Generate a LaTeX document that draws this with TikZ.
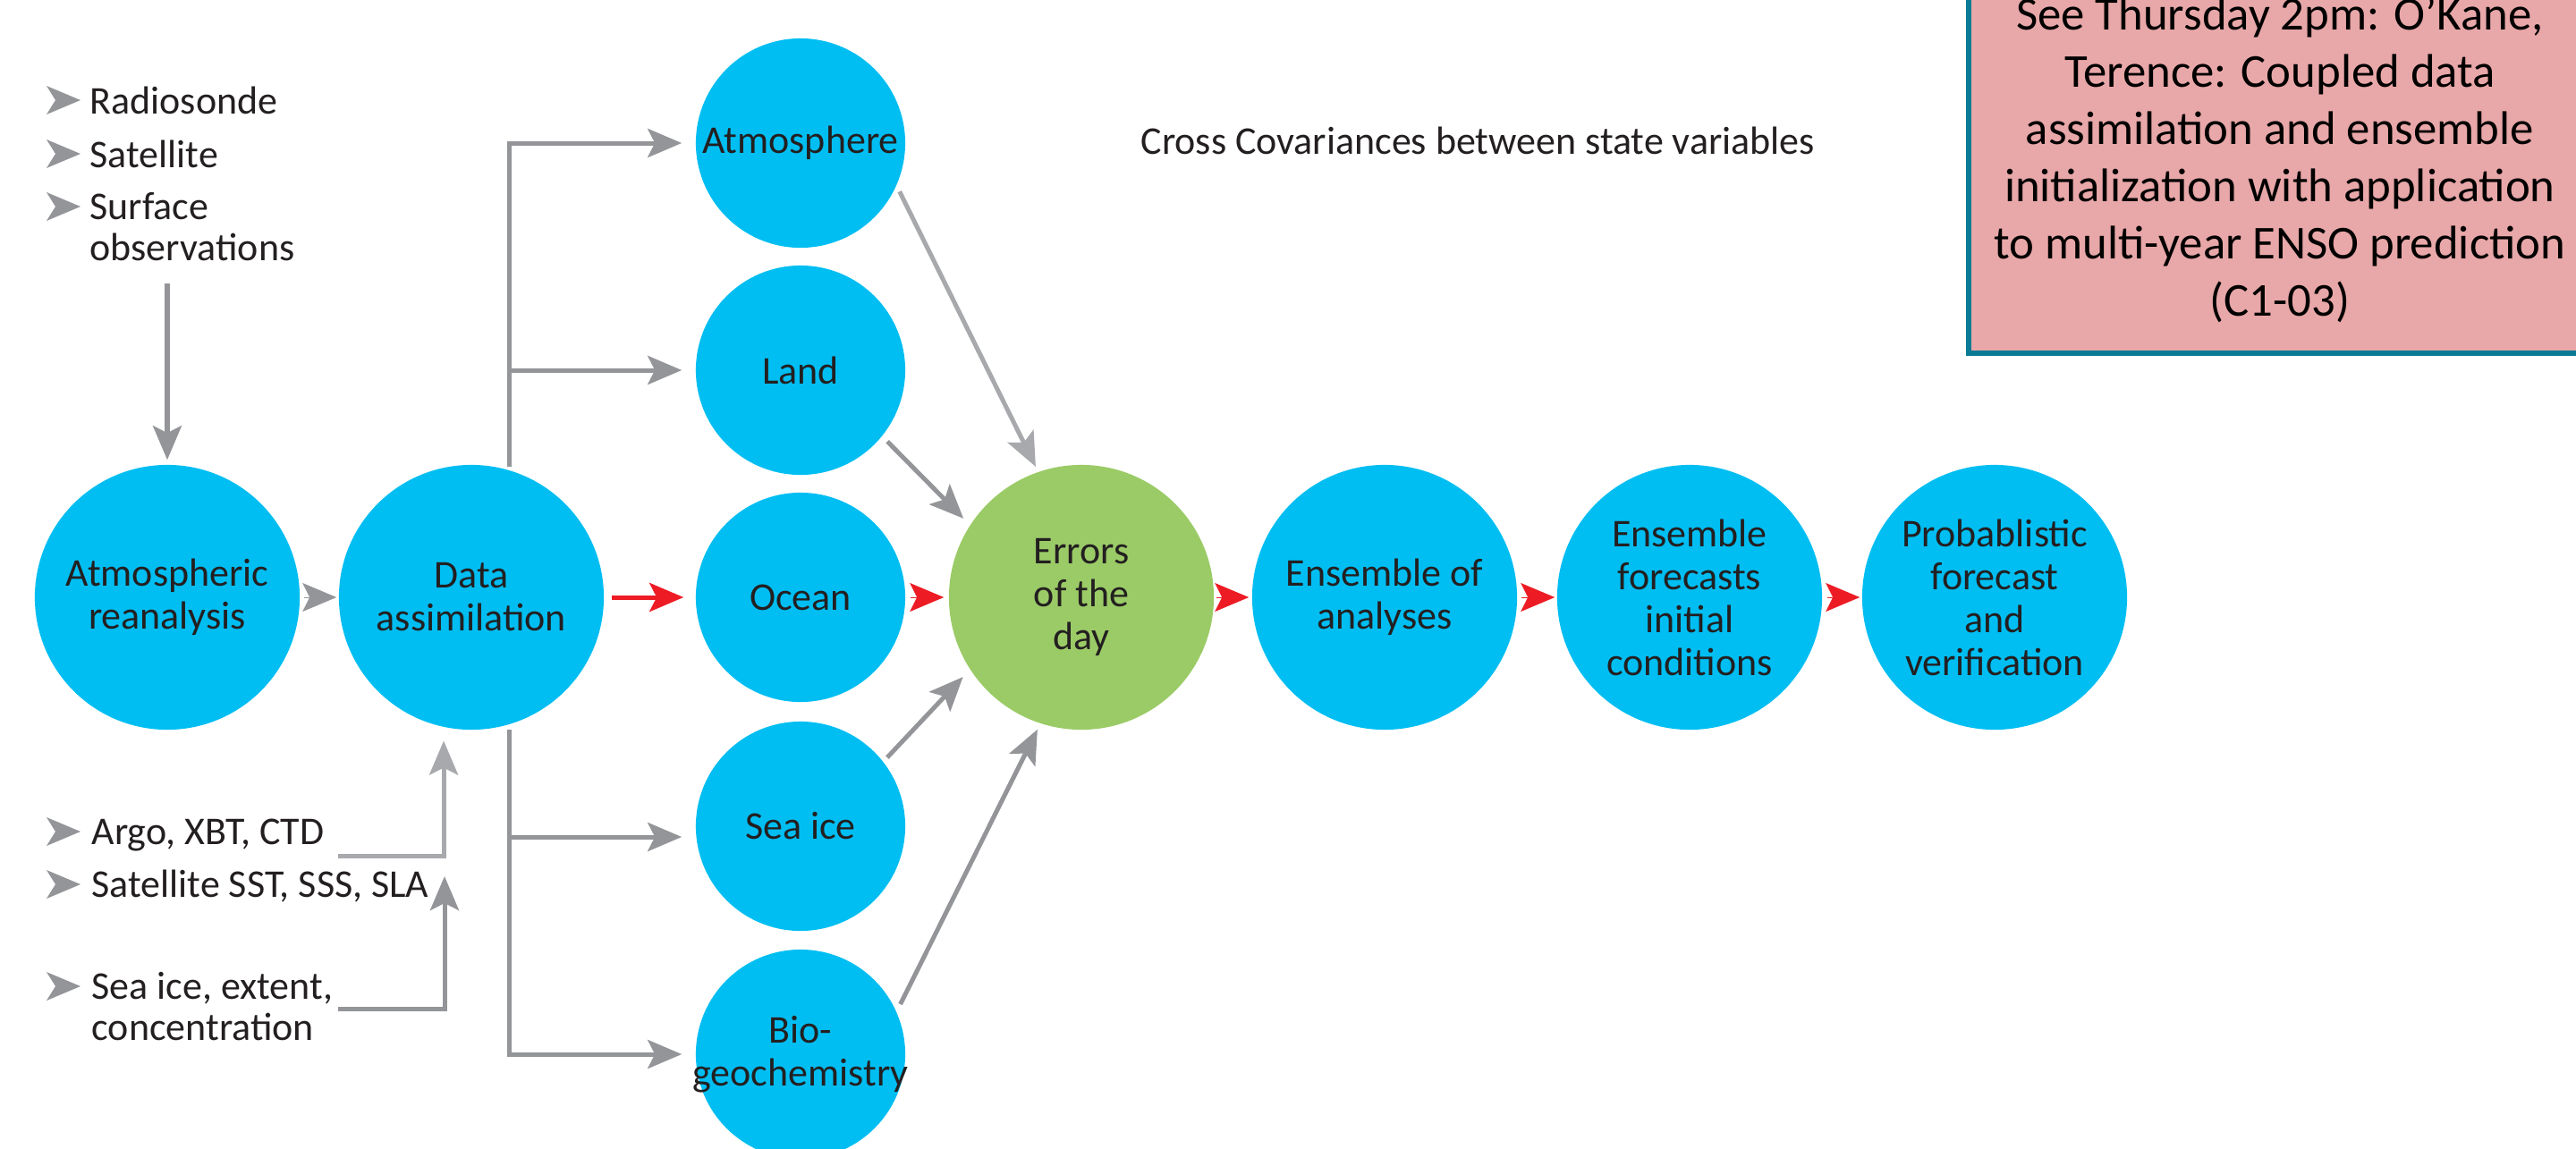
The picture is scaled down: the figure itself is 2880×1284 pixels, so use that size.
\documentclass[tikz,border=0pt]{standalone}
\usepackage{fontspec}
\setmainfont{Carlito}
\usetikzlibrary{arrows.meta,calc}
\definecolor{cyanc}{HTML}{00BEF2}
\definecolor{greenc}{HTML}{9BCB67}
\definecolor{redc}{HTML}{ED1C24}
\definecolor{grayc}{HTML}{939598}
\definecolor{lgrayc}{HTML}{A7A9AC}
\definecolor{txt}{HTML}{231F20}
\definecolor{boxfill}{HTML}{E8A7A8}
\definecolor{boxline}{HTML}{0B7A94}
\tikzset{tipg/.tip={Stealth[length=0.38cm,width=0.32cm,inset=0.08cm]}}
\begin{document}
\begin{tikzpicture}[x=0.01cm,y=-0.01cm,
  nodefont/.style={font=\fontsize{12.5}{13.66}\selectfont, text=txt},
  listtext/.style={font=\fontsize{12.5}{13.2}\selectfont, text=txt, anchor=base west, inner sep=0pt},
  smallc/.style={circle, fill=cyanc, minimum size=2.34cm, inner sep=0pt, nodefont, align=center},
  bigc/.style={circle, fill=cyanc, minimum size=2.96cm, inner sep=0pt, nodefont, align=center},
  garrow/.style={draw=grayc, line width=0.05cm, -{tipg}},
  lgarrow/.style={draw=lgrayc, line width=0.05cm, -{tipg}},
  gtip/.style={draw=grayc, line width=0.01cm, -{tipg}},
  rtip/.style={draw=redc, line width=0.01cm, -{tipg}},
  rarrow/.style={draw=redc, line width=0.05cm, -{tipg}},
  bullet/.style={fill=grayc}
]
\useasboundingbox (0,0) rectangle (2880,1284);
\clip (0,0) rectangle (2880,1284);

% info box
\node[draw=boxline, fill=boxfill, line width=0.055cm, minimum width=6.96cm,
  minimum height=4.32cm, inner sep=0pt, align=center,
  font=\fontsize{15}{18.2}\selectfont, text=black] (box) at (2549,179)
  {See Thursday 2pm: O’Kane,\\Terence: Coupled data\\assimilation and ensemble\\initialization with application\\to multi-year ENSO prediction\\(C1-03)};

% main circles
\node[bigc] (ar) at (187,668) {Atmospheric\\reanalysis};
\node[bigc] (da) at (527,668) {Data\\assimilation};
\node[smallc] (atm) at (895,160) {Atmosphere};
\node[smallc] (land) at (895,414) {Land};
\node[smallc] (ocean) at (895,668) {Ocean};
\node[smallc] (seaice) at (895,924) {Sea ice};
\node[smallc] (bio) at (895,1179) {Bio-\\\makebox[0pt]{geochemistry}};
\node[bigc, fill=greenc] (err) at (1209,668) {Errors\\of the\\day};
\node[bigc] (ens) at (1548,668) {Ensemble of\\analyses};
\node[bigc] (efc) at (1889,668) {Ensemble\\forecasts\\initial\\conditions};
\node[bigc] (prob) at (2230,668) {Probablistic\\forecast\\and\\verification};

\node[nodefont, anchor=base west, inner sep=0pt] (cc) at (1275,172) {Cross Covariances between state variables};

% observation lists
\foreach \yy in {112,172,231,930,989,1103}
  \fill[bullet] (52,\yy-16) -- (90,\yy) -- (52,\yy+16) -- (62,\yy) -- cycle;
\node[listtext] (l1) at (100,127) {Radiosonde};
\node[listtext] (l2) at (100,187) {Satellite};
\node[listtext] (l3) at (100,245) {\begin{tabular}[t]{@{}l@{}}Surface\\observations\end{tabular}};
\node[listtext] (l4) at (102,944) {Argo, XBT, CTD};
\node[listtext] (l5) at (102,1003) {Satellite SST, SSS, SLA};
\node[listtext] (l6) at (102,1117) {\begin{tabular}[t]{@{}l@{}}Sea ice, extent,\\concentration\end{tabular}};

% connectors
\coordinate (obs) at (187,317);
\draw[garrow, shorten >=0.05cm] (obs) -- (ar.north);
\draw[gtip, shorten <=0.04cm, shorten >=0.02cm] (ar.east) -- (da.west);

\coordinate (jt) at (569,522);
\coordinate (jb) at (569,816);
\coordinate (js) at (569,936);
\draw[garrow, shorten >=0.15cm] (jt) |- (atm.west);
\draw[garrow, shorten >=0.15cm] (jt |- land.west) -- (land.west);
\draw[garrow, shorten >=0.15cm] (jb) |- (bio.west);
\draw[garrow, shorten >=0.15cm] (js) -- (js -| seaice.west);

\coordinate (ag) at (378,957);
\draw[lgarrow, shorten >=0.15cm] (ag) -| (da.-102);
\coordinate (si1) at (378,1128);
\coordinate (si2) at (497,980);
\draw[garrow] (si1) -| (si2);

\draw[rarrow, shorten <=0.08cm, shorten >=0.13cm] (da.east) -- (ocean.west);
\draw[rtip, shorten <=0.05cm, shorten >=0.05cm] (ocean.east) -- (err.west);
\draw[rtip, shorten <=0.02cm, shorten >=0.03cm] (err.east) -- (ens.west);
\draw[rtip, shorten <=0.04cm, shorten >=0.02cm] (ens.east) -- (efc.west);
\draw[rtip, shorten <=0.05cm, shorten >=0.02cm] (efc.east) -- (prob.west);

\draw[lgarrow, shorten <=0.07cm, shorten >=0.06cm] (atm.-24) -- (err.109);
\draw[garrow, shorten <=0.08cm, shorten >=0.10cm] (land.-39) -- (err.147);
\draw[garrow, shorten <=0.06cm, shorten >=0.11cm] (seaice.38) -- (err.213);
\draw[garrow, shorten <=0.09cm, shorten >=0.07cm] (bio.24) -- (err.252);
\end{tikzpicture}
\end{document}
